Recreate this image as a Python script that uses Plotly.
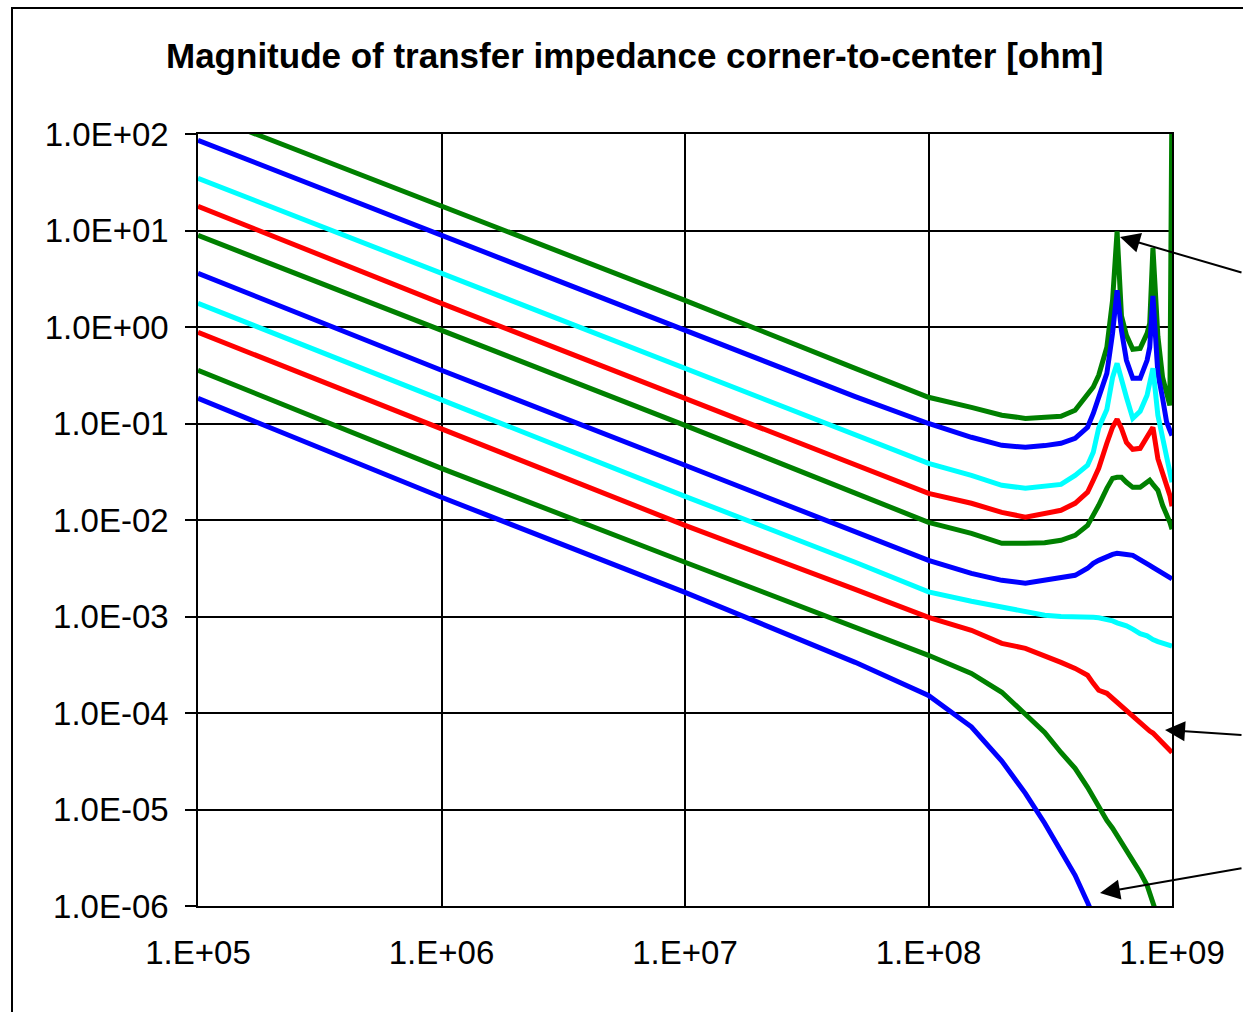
import plotly.graph_objects as go

# ---------------- data ----------------
FREQ = [1e5, 1e6, 1e7, 5e7, 1e8, 1.5e8, 2e8, 2.5e8, 3e8, 3.5e8, 4e8, 4.5e8, 4.75e8,
        5e8, 5.4e8, 5.7e8, 5.95e8, 6.2e8, 6.5e8, 6.9e8, 7.4e8, 7.9e8, 8.1e8, 8.35e8,
        8.75e8, 9.15e8, 9.5e8, 9.8e8, 1e9]

G1 = [170, 17.8, 1.89, 0.373, 0.187, 0.147, 0.122, 0.113, 0.118, 0.119, 0.137, 0.196, 0.239,
      0.316, 0.617, 1.89, 9.8, 1.3, 0.82, 0.587, 0.60, 0.86, 1.09, 6.6,
      0.8, 0.30, 0.22, 0.154, 300]
B1 = [86, 8.9, 0.925, 0.19, 0.10, 0.072, 0.0594, 0.0566, 0.059, 0.0623, 0.0703, 0.0914, 0.127,
      0.187, 0.331, 0.861, 2.4, 0.92, 0.452, 0.294, 0.294, 0.452, 0.615, 2.1,
      0.33, 0.182, 0.104, 0.085, 0.075]
C1 = [34.8, 3.6, 0.373, 0.0764, 0.0387, 0.029, 0.0229, 0.0213, 0.0225, 0.0234, 0.029, 0.0369, 0.0504,
      0.09, 0.14, 0.30, 0.42, 0.28, 0.187, 0.113, 0.134, 0.196, 0.261, 0.373,
      0.1216, 0.072, 0.049, 0.0312, 0.0246]
R1 = [17.8, 1.76, 0.182, 0.0373, 0.0189, 0.0149, 0.0120, 0.0107, 0.0118, 0.0126, 0.0149, 0.0194, 0.0258,
      0.0343, 0.0624, 0.0914, 0.1107, 0.089, 0.0638, 0.054, 0.0553, 0.072, 0.081, 0.0914,
      0.0432, 0.0305, 0.024, 0.018, 0.0139]
G2 = [8.9, 0.925, 0.0958, 0.019, 0.00946, 0.00728, 0.00574, 0.00574, 0.0058, 0.00617, 0.00693, 0.0088, 0.0112,
      0.0142, 0.0213, 0.027, 0.0277, 0.0277, 0.0246, 0.0218, 0.0218, 0.0246, 0.0258, 0.0234,
      0.0203, 0.0142, 0.0117, 0.00946, 0.00802]
B2 = [3.6, 0.356, 0.0369, 0.00755, 0.00382, 0.0028, 0.00237, 0.00221, 0.00237, 0.00249, 0.00267, 0.00316, 0.00356,
      0.00382, 0.0042, 0.0044, 0.00452, 0.00452, 0.0044, 0.0043, 0.00392, 0.00356, 0.00339, 0.00323,
      0.00301, 0.0028, 0.0026, 0.00252, 0.00245]
C2 = [1.76, 0.174, 0.0176, 0.00365, 0.0018, 0.00144, 0.00124, 0.00113, 0.00103, 0.0010, 0.0010, 0.00099, 0.00098,
      0.00097, 0.00094, 0.00090, 0.00086, 0.00084, 0.00080, 0.00074, 0.000665, 0.00063, 0.00060, 0.000577,
      0.00055, 0.00053, 0.00051, 0.00050, 0.000494]
R2 = [0.88, 0.089, 0.0088, 0.00191, 0.00098, 0.00072, 0.000527, 0.000468, 0.000396, 0.000335, 0.00029, 0.000246, 0.000203,
      0.000172, 0.00016, 0.000142, 0.000126, 0.000115, 0.000104, 9.0e-5, 8.0e-5, 6.9e-5, 6.5e-5, 6.2e-5,
      5.5e-5, 5.0e-5, 4.6e-5, 4.1e-5, 3.9e-5]
G3 = [0.356, 0.0343, 0.00365, 0.00077, 0.000396, 0.000257, 0.000164, 9.7e-5, 6.3e-5, 3.9e-5, 2.67e-5, 1.70e-5, 1.33e-5,
      1.03e-5, 7.7e-6, 6.4e-6, 5.4e-6, 4.6e-6, 3.8e-6, 2.98e-6, 2.23e-6, 1.64e-6, 1.35e-6, 1.09e-6,
      7.6e-7, None, None, None, None]
B3 = [0.182, 0.0172, 0.00178, 0.000335, 0.000152, 7.2e-5, 3.18e-5, 1.47e-5, 7.2e-6, 3.8e-6, 2.08e-6, 1.09e-6, 7.9e-7,
      None, None, None, None, None, None, None, None, None, None, None,
      None, None, None, None, None]

SERIES = [G1, B1, C1, R1, G2, B2, C2, R2, G3, B3]
COLORS = ["#008000", "#0000FF", "#00FFFF", "#FF0000", "#008000",
          "#0000FF", "#00FFFF", "#FF0000", "#008000", "#0000FF"]

X_TICKS = [1e5, 1e6, 1e7, 1e8, 1e9]
X_TICKTEXT = ["1.E+05", "1.E+06", "1.E+07", "1.E+08", "1.E+09"]
Y_TICKS = [1e-6, 1e-5, 1e-4, 1e-3, 1e-2, 1e-1, 1e0, 1e1, 1e2]
Y_TICKTEXT = ["1.0E-06", "1.0E-05", "1.0E-04", "1.0E-03", "1.0E-02",
              "1.0E-01", "1.0E+00", "1.0E+01", "1.0E+02"]

TITLE = "Magnitude of transfer impedance corner-to-center [ohm]"
FONT = "Liberation Sans, Arial, sans-serif"

# ---------------- figure ----------------
fig = go.Figure()
for vals, col in zip(SERIES, COLORS):
    fig.add_trace(go.Scatter(x=FREQ, y=vals, mode="lines",
                             line=dict(color=col, width=5),
                             connectgaps=False, showlegend=False,
                             hoverinfo="skip"))

L, R, T, B = 198, 71, 134, 106
W, H = 1243, 1012

fig.update_layout(
    width=W, height=H,
    margin=dict(l=L, r=R, t=T, b=B, pad=0),
    paper_bgcolor="white", plot_bgcolor="white",
    showlegend=False,
    font=dict(family=FONT, color="black"),
)

fig.update_xaxes(type="log", range=[5, 9],
                 tickvals=X_TICKS, ticktext=X_TICKTEXT,
                 tickfont=dict(family=FONT, size=33, color="black"),
                 ticks="", ticklabelstandoff=17,
                 showgrid=True, gridcolor="black", gridwidth=1.5,
                 showline=True, linecolor="black", linewidth=1.5, mirror=True,
                 zeroline=False)
fig.update_yaxes(type="log", range=[-6, 2],
                 tickvals=Y_TICKS, ticktext=Y_TICKTEXT,
                 tickfont=dict(family=FONT, size=33, color="black"),
                 ticks="outside", ticklen=11, tickwidth=1.5, tickcolor="black",
                 ticklabelstandoff=10,
                 showgrid=True, gridcolor="black", gridwidth=1.5,
                 showline=True, linecolor="black", linewidth=1.5, mirror=True,
                 zeroline=False)

pw, ph = W - L - R, H - T - B

def px(xp):
    return (xp - L) / pw

def py(yp):
    return (H - B - yp) / ph

# title
fig.add_annotation(text="<b>" + TITLE + "</b>", xref="paper", yref="paper",
                   x=px(634), y=py(55), xanchor="center", yanchor="middle",
                   showarrow=False, font=dict(family=FONT, size=35, color="black"))

# outer chart frame (extends beyond the visible page on the right and bottom)
fig.add_shape(type="rect", xref="paper", yref="paper",
              x0=px(12), y0=py(8), x1=px(1400), y1=py(1100),
              line=dict(color="black", width=2), fillcolor="rgba(0,0,0,0)",
              layer="below")

# arrows pointing at curves from outside the plot
ARROWS = [(1120, 237, 180, 36), (1165, 730, 135, 5), (1100, 893, 200, -25)]
for xt, yt, axo, ayo in ARROWS:
    fig.add_annotation(text="", xref="paper", yref="paper", x=px(xt), y=py(yt),
                       ax=axo, ay=ayo, axref="pixel", ayref="pixel",
                       showarrow=True, arrowhead=2, arrowsize=2, arrowwidth=2,
                       arrowcolor="black", standoff=0)

fig.write_html("out.html")
